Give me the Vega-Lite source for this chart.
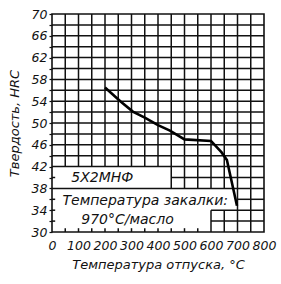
{
  "$schema": "https://vega.github.io/schema/vega-lite/v6.json",
  "autosize": "none",
  "width": 212,
  "height": 218,
  "padding": {"left": 52, "top": 14, "right": 17, "bottom": 52},
  "background": "white",
  "config": {
    "view": {"stroke": "#111", "strokeWidth": 1.6},
    "font": "DejaVu Sans",
    "axis": {"domain": false, "grid": false, "labelColor": "#111", "titleColor": "#111", "labelFont": "DejaVu Sans", "titleFont": "DejaVu Sans", "labelFontStyle": "italic", "titleFontStyle": "italic", "titleFontWeight": "normal", "labelFontSize": 12.5, "titleFontSize": 13}
  },
  "datasets": {
    "vgrid": [
      {"x": 50, "y": 42, "y2": 70}, {"x": 100, "y": 42, "y2": 70}, {"x": 150, "y": 42, "y2": 70},
      {"x": 200, "y": 42, "y2": 70}, {"x": 250, "y": 42, "y2": 70}, {"x": 300, "y": 42, "y2": 70},
      {"x": 350, "y": 42, "y2": 70}, {"x": 400, "y": 42, "y2": 70},
      {"x": 450, "y": 38, "y2": 70}, {"x": 500, "y": 38, "y2": 70}, {"x": 550, "y": 38, "y2": 70},
      {"x": 600, "y": 38, "y2": 70}, {"x": 650, "y": 38, "y2": 70},
      {"x": 600, "y": 30, "y2": 34}, {"x": 650, "y": 30, "y2": 34},
      {"x": 700, "y": 30, "y2": 70}, {"x": 750, "y": 30, "y2": 70},
      {"x": 50, "y": 30, "y2": 30.7}, {"x": 100, "y": 30, "y2": 30.7}, {"x": 150, "y": 30, "y2": 30.7},
      {"x": 200, "y": 30, "y2": 30.7}, {"x": 250, "y": 30, "y2": 30.7}, {"x": 300, "y": 30, "y2": 30.7},
      {"x": 350, "y": 30, "y2": 30.7}, {"x": 400, "y": 30, "y2": 30.7}, {"x": 450, "y": 30, "y2": 30.7},
      {"x": 500, "y": 30, "y2": 30.7}, {"x": 550, "y": 30, "y2": 30.7}
    ],
    "hgrid": [
      {"y": 68, "x": 0, "x2": 800}, {"y": 66, "x": 0, "x2": 800}, {"y": 64, "x": 0, "x2": 800},
      {"y": 62, "x": 0, "x2": 800}, {"y": 60, "x": 0, "x2": 800}, {"y": 58, "x": 0, "x2": 800},
      {"y": 56, "x": 0, "x2": 800}, {"y": 54, "x": 0, "x2": 800}, {"y": 52, "x": 0, "x2": 800},
      {"y": 50, "x": 0, "x2": 800}, {"y": 48, "x": 0, "x2": 800}, {"y": 46, "x": 0, "x2": 800},
      {"y": 44, "x": 0, "x2": 800}, {"y": 42, "x": 0, "x2": 800},
      {"y": 40, "x": 450, "x2": 800}, {"y": 38, "x": 0, "x2": 800},
      {"y": 36, "x": 700, "x2": 800}, {"y": 34, "x": 600, "x2": 800}, {"y": 32, "x": 600, "x2": 800},
      {"y": 40, "x": 0, "x2": 12}, {"y": 36, "x": 0, "x2": 12}, {"y": 34, "x": 0, "x2": 12}, {"y": 32, "x": 0, "x2": 12}
    ],
    "curve": [
      {"x": 200, "y": 56.5}, {"x": 260, "y": 53.9}, {"x": 305, "y": 52.1}, {"x": 350, "y": 51.0},
      {"x": 400, "y": 49.6}, {"x": 445, "y": 48.6}, {"x": 500, "y": 47.0}, {"x": 600, "y": 46.7},
      {"x": 640, "y": 44.6}, {"x": 660, "y": 43.2}, {"x": 698, "y": 34.8}
    ],
    "notes": [
      {"x": 190, "y": 40, "t": "5X2МНФ"},
      {"x": 352, "y": 35.6, "t": "Температура закалки:"},
      {"x": 285, "y": 32.2, "t": "970°C/масло"}
    ]
  },
  "encoding": {
    "x": {"field": "x", "type": "quantitative", "scale": {"domain": [0, 800], "nice": false, "zero": false},
      "axis": {"values": [0, 100, 200, 300, 400, 500, 600, 700, 800], "ticks": false, "labelPadding": 7, "title": "Температура отпуска, °C", "titlePadding": 7, "labelFlush": false}},
    "y": {"field": "y", "type": "quantitative", "scale": {"domain": [30, 70], "nice": false, "zero": false},
      "axis": {"values": [30, 32, 34, 36, 38, 40, 42, 44, 46, 48, 50, 52, 54, 56, 58, 60, 62, 64, 66, 68, 70], "labelExpr": "(datum.value - 30) % 4 == 0 ? datum.label : ''", "tickSize": 3, "tickColor": "#111", "tickWidth": 1.2, "labelPadding": 2, "title": "Твердость, HRC", "titlePadding": 10, "labelFlush": false}}
  },
  "layer": [
    {"data": {"name": "vgrid"}, "mark": {"type": "rule", "color": "#111", "strokeWidth": 1.5},
      "encoding": {"y2": {"field": "y2"}}},
    {"data": {"name": "hgrid"}, "mark": {"type": "rule", "color": "#111", "strokeWidth": 1.5},
      "encoding": {"x2": {"field": "x2"}}},
    {"data": {"name": "curve"}, "mark": {"type": "line", "color": "#000", "strokeWidth": 2.6}, "encoding": {}},
    {"data": {"name": "notes"}, "mark": {"type": "text", "font": "DejaVu Sans", "fontStyle": "italic", "fontSize": 14, "color": "#111"},
      "encoding": {"text": {"field": "t"}}}
  ]
}
